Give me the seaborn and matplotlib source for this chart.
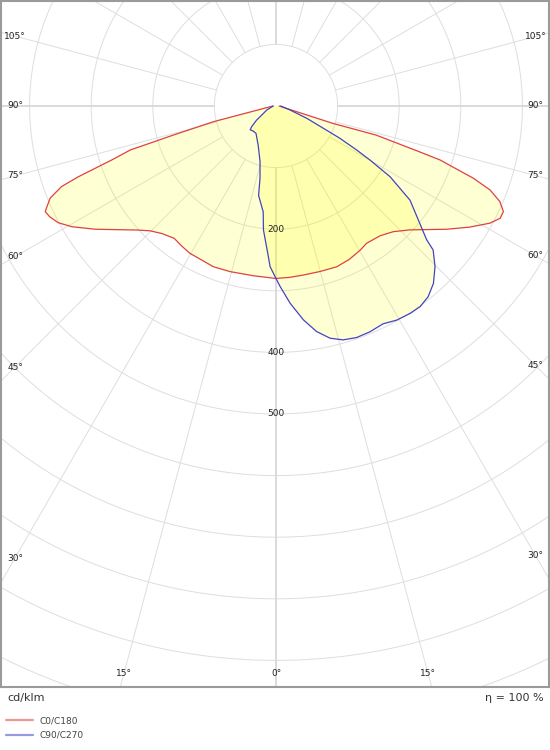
import numpy as np
import pandas as pd
import matplotlib
matplotlib.use("Agg")
import matplotlib.pyplot as plt
import seaborn as sns

# ---------------- data: gamma (deg from nadir), intensity (cd/klm) ----------------
# C0/C180 plane: left half (C180) listed 90 -> 0, right half (C0) listed 0 -> 90
c180_gamma = [90, 75.9, 74.2, 73.2, 71.8, 70.3, 69.4, 67.8, 66.3, 65.4, 63.9, 61.8,
              59.4, 55.7, 48.0, 45.3, 41.9, 37.6, 34.0, 30.3, 21.3, 15.5, 7.6, 0]
c180_cd = [5, 105, 173, 247, 281, 341, 372, 396, 406, 412, 409, 401,
           385, 355, 301, 288, 278, 271, 274, 277, 280, 279, 278, 280]
c0_gamma = [0, 4.7, 9.2, 14.9, 20.7, 25.5, 30.3, 33.4, 38.7, 43.0, 47.2, 54.2,
            58.0, 61.3, 63.4, 65.1, 66.9, 68.6, 69.9, 71.8, 72.3, 73.8, 73.0, 90]
c0_cd = [280, 279, 278, 278, 279, 276, 271, 267, 270, 279, 296, 342,
         371, 396, 407, 407, 395, 373, 341, 280, 244, 169, 96, 5]
# C90/C270 plane: left half (C270) listed 90 -> 0, right half (C90) listed 0 -> 90
c270_gamma = [90, 66.7, 54.0, 49.6, 47.3, 42.2, 36.2, 24.4, 16.0, 12.5, 11.0, 6.9,
              5.8, 2.9, 2.1, 0]
c270_cd = [4.5, 16, 39, 52, 57, 55, 55, 70, 94, 120, 148, 173, 202, 245, 261, 280]
c90_gamma = [0, 1.3, 4.1, 7.3, 10.2, 13.1, 16.0, 19.2, 22.6, 26.2, 29.4, 32.9,
             35.7, 38.6, 41.6, 44.7, 47.5, 48.4, 50.8, 54.9, 58.2, 60.1, 61.4, 63.2,
             64.8, 68.2, 74.0, 90]
c90_cd = [280, 293, 321, 350, 372, 387, 395, 398, 397, 394, 399, 401,
          401, 396, 385, 367, 346, 327, 301, 266, 218, 176, 149, 116,
          85, 54, 24, 7.6]

plane_labels = ["C0/C180", "C90/C270"]
plane_colors = ["#E04040", "#4444C0"]

ring_values = list(range(100, 1600, 100))
ring_labels = [200, 400, 500]
angle_ticks_left = [105, 90, 75, 60, 45, 30]
angle_ticks_bottom = [-15, 0, 15]
angle_ticks_right = [30, 45, 60, 75, 90, 105]
unit_text = "cd/klm"
eta_text = "η = 100 %"


def to_xy(gamma, cd, side):
    g = np.radians(np.asarray(gamma, float))
    r = np.asarray(cd, float)
    return side * r * np.sin(g), -r * np.cos(g)


rows = []
for label, (gl, cl, gr, cr) in zip(
        plane_labels,
        [(c180_gamma, c180_cd, c0_gamma, c0_cd),
         (c270_gamma, c270_cd, c90_gamma, c90_cd)]):
    xl, yl = to_xy(gl, cl, -1)
    xr, yr = to_xy(gr, cr, 1)
    xs = np.concatenate([xl, xr])
    ys = np.concatenate([yl, yr])
    for i, (a, b) in enumerate(zip(xs, ys)):
        rows.append({"plane": label, "order": i, "x": a, "y": b})
df = pd.DataFrame(rows)

# ---------------- figure ----------------
sns.set_theme(style="white")
plt.rcParams["font.family"] = ["DejaVu Sans"]

W, H = 550, 750
fig = plt.figure(figsize=(W / 100, H / 100), dpi=100)
fig.patch.set_facecolor("white")

# axes box in pixels and polar centre
box_l, box_r, box_t, box_b = 1, 549, 1, 687
cx, cy = 276, 106
scale = 0.616  # px per cd/klm
ax = fig.add_axes([box_l / W, 1 - box_b / H, (box_r - box_l) / W, (box_b - box_t) / H])
ax.set_xlim((box_l - cx) / scale, (box_r - cx) / scale)
ax.set_ylim(-(box_b - cy) / scale, (cy - box_t) / scale)
ax.set_facecolor("white")

# grid: rings
t = np.linspace(0, 2 * np.pi, 721)
for rv in ring_values:
    ax.plot(rv * np.cos(t), rv * np.sin(t), color="#DEDEDE", lw=0.7, zorder=1)
# grid: radial lines every 15 deg starting at the first ring
for a in range(0, 360, 15):
    ar = np.radians(a)
    lw = 1.3 if a % 90 == 0 else 0.7
    col = "#D8D8D8" if a % 90 == 0 else "#DEDEDE"
    ax.plot([100 * np.sin(ar), 2000 * np.sin(ar)],
            [-100 * np.cos(ar), -2000 * np.cos(ar)], color=col, lw=lw, zorder=1)

# fills
for label in plane_labels:
    sub = df[df.plane == label]
    ax.fill(sub.x, sub.y, color="#FFFF00", alpha=0.17, lw=0, zorder=2)

# curves
sns.lineplot(data=df, x="x", y="y", hue="plane", palette=plane_colors,
             hue_order=plane_labels, sort=False, estimator=None, units="plane",
             lw=0.9, ax=ax, zorder=3)

ax.set(xlabel="", ylabel="", xticks=[], yticks=[])
for sp in ax.spines.values():
    sp.set_color("#9A9A9A")
    sp.set_linewidth(1.5)

# ring labels
for rv in ring_labels:
    ax.text(0, -rv, str(rv), ha="center", va="center", fontsize=6.5,
            color="#222222", zorder=4)

# angle labels (placed where the ray meets an inset box)
x_left = (15 - cx) / scale
x_right = (535.5 - cx) / scale
y_bottom = -(674 - cy) / scale
for a in angle_ticks_left:
    ar = np.radians(a)
    ax.text(x_left, x_left / np.tan(ar), f"{a}°", ha="center", va="center",
            fontsize=6.5, color="#222222", zorder=4)
for a in angle_ticks_right:
    ar = np.radians(a)
    ax.text(x_right, -x_right / np.tan(ar), f"{a}°", ha="center", va="center",
            fontsize=6.5, color="#222222", zorder=4)
for a in angle_ticks_bottom:
    ar = np.radians(a)
    ax.text(-y_bottom * np.tan(ar), y_bottom, f"{abs(a)}°", ha="center", va="center",
            fontsize=6.5, color="#222222", zorder=4)

# footer text
fig.text(7 / W, 1 - 698 / H, unit_text, ha="left", va="center", fontsize=8, color="#333333")
fig.text(544 / W, 1 - 698 / H, eta_text, ha="right", va="center", fontsize=8, color="#333333")

# legend
sns.move_legend(ax, "upper left", bbox_to_anchor=(6 / W, 1 - 716.5 / H),
                bbox_transform=fig.transFigure, frameon=False, title=None,
                fontsize=6.5, handlelength=3.0, handletextpad=0.7,
                labelspacing=0.6, borderpad=0, borderaxespad=0)
leg = ax.get_legend()
for h in leg.get_lines():
    h.set_linewidth(1.6)
    h.set_alpha(0.55)
for txt in leg.get_texts():
    txt.set_color("#444444")

fig.savefig("out.png", dpi=100, facecolor="white")
